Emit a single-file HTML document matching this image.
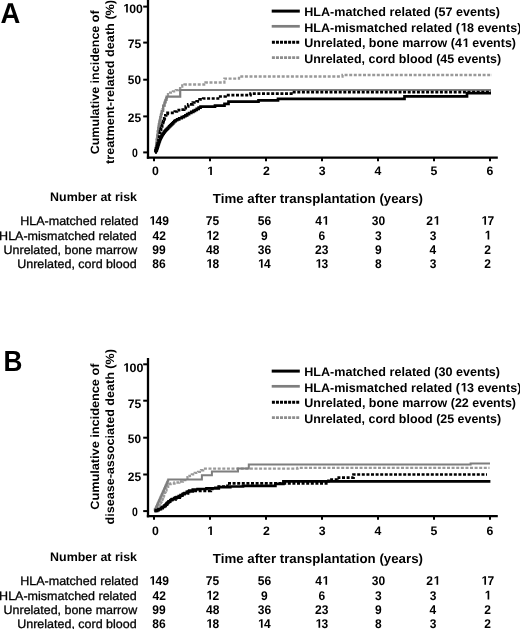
<!DOCTYPE html>
<html><head><meta charset="utf-8"><style>
html,body{margin:0;padding:0;background:#fff;}
body{width:520px;height:629px;overflow:hidden;}
svg{display:block;font-family:"Liberation Sans",sans-serif;filter:grayscale(1);text-rendering:geometricPrecision;}
</style></head><body>
<svg width="520" height="629" viewBox="0 0 520 629">
<rect width="520" height="629" fill="#fff"/>
<text x="0.61" y="23.20" font-size="28.8" font-weight="bold" textLength="19.83" lengthAdjust="spacingAndGlyphs" fill="#000">A</text>
<text x="3.50" y="371.40" font-size="29.2" font-weight="bold" textLength="18.94" lengthAdjust="spacingAndGlyphs" fill="#000">B</text>
<text transform="translate(99.20,154.30) rotate(-90)" font-size="12.0" font-weight="bold" textLength="143.87" lengthAdjust="spacingAndGlyphs" fill="#000">Cumulative incidence of</text>
<text transform="translate(114.30,163.93) rotate(-90)" font-size="12.0" font-weight="bold" textLength="164.02" lengthAdjust="spacingAndGlyphs" fill="#000">treatment-related death (%)</text>
<text transform="translate(99.20,509.71) rotate(-90)" font-size="12.0" font-weight="bold" textLength="146.08" lengthAdjust="spacingAndGlyphs" fill="#000">Cumulative incidence of</text>
<text transform="translate(114.30,524.50) rotate(-90)" font-size="12.0" font-weight="bold" textLength="175.43" lengthAdjust="spacingAndGlyphs" fill="#000">disease-associated death (%)</text>
<line x1="148" y1="0" x2="148" y2="158.75" stroke="#000" stroke-width="2.3" stroke-linecap="butt"/>
<line x1="146.85" y1="157.6" x2="497.8" y2="157.6" stroke="#000" stroke-width="2.3" stroke-linecap="butt"/>
<line x1="143.2" y1="152.4" x2="147.5" y2="152.4" stroke="#000" stroke-width="2.0" stroke-linecap="butt"/>
<line x1="143.2" y1="116.4" x2="147.5" y2="116.4" stroke="#000" stroke-width="2.0" stroke-linecap="butt"/>
<line x1="143.2" y1="79.7" x2="147.5" y2="79.7" stroke="#000" stroke-width="2.0" stroke-linecap="butt"/>
<line x1="143.2" y1="42.6" x2="147.5" y2="42.6" stroke="#000" stroke-width="2.0" stroke-linecap="butt"/>
<line x1="143.2" y1="6.6" x2="147.5" y2="6.6" stroke="#000" stroke-width="2.0" stroke-linecap="butt"/>
<line x1="154" y1="157.6" x2="154" y2="161.2" stroke="#000" stroke-width="2.0" stroke-linecap="butt"/>
<line x1="210" y1="157.6" x2="210" y2="161.2" stroke="#000" stroke-width="2.0" stroke-linecap="butt"/>
<line x1="266" y1="157.6" x2="266" y2="161.2" stroke="#000" stroke-width="2.0" stroke-linecap="butt"/>
<line x1="322" y1="157.6" x2="322" y2="161.2" stroke="#000" stroke-width="2.0" stroke-linecap="butt"/>
<line x1="378" y1="157.6" x2="378" y2="161.2" stroke="#000" stroke-width="2.0" stroke-linecap="butt"/>
<line x1="434" y1="157.6" x2="434" y2="161.2" stroke="#000" stroke-width="2.0" stroke-linecap="butt"/>
<line x1="490" y1="157.6" x2="490" y2="161.2" stroke="#000" stroke-width="2.0" stroke-linecap="butt"/>
<path d="M155.00,152.20 H155.22 V150.10 H155.68 V148.00 H155.90 H156.00 V146.34 H156.20 V144.68 H156.40 V143.02 H156.60 V141.36 H156.80 V139.70 H156.90 H157.01 V138.04 H157.23 V136.38 H157.45 V134.72 H157.67 V133.06 H157.89 V131.40 H158.00 H158.14 V129.60 H158.41 V127.80 H158.69 V126.00 H158.96 V124.20 H159.10 H159.29 V122.40 H159.66 V120.60 H160.04 V118.80 H160.41 V117.00 H160.60 H160.80 V115.45 H161.20 V113.90 H161.60 V112.35 H162.00 V110.80 H162.20 H162.52 V109.07 H163.15 V107.33 H163.78 V105.60 H164.10 H164.38 V103.67 H164.95 V101.73 H165.52 V99.80 H165.80 H166.18 V98.20 H166.93 V96.60 H167.30 H168.00 V94.20 H168.70 H170.10 V92.70 H171.50 H172.95 V91.30 H174.40 H175.85 V90.10 H177.30 H178.15 V88.70 H179.00 H180.20 V86.70 H181.40 H182.25 V85.50 H183.10 H184.55 V84.50 H186.00 L205.50,84.50 L205.50,82.50 L224.40,82.50 L224.40,78.60 L239.00,78.60 L239.00,76.50 L342.50,76.50 L342.50,75.00 L492.00,75.00" fill="none" stroke="#9a9a9a" stroke-width="2.3" stroke-linejoin="miter" stroke-dasharray="3 1.6"/>
<path d="M155.00,152.20 H155.45 V148.00 H155.90 H156.15 V143.85 H156.65 V139.70 H156.90 H157.18 V135.55 H157.72 V131.40 H158.00 H158.28 V127.80 H158.82 V124.20 H159.10 H159.47 V120.60 H160.22 V117.00 H160.60 H161.00 V113.90 H161.80 V110.80 H162.20 H163.15 V105.60 H164.10 H164.53 V102.70 H165.38 V99.80 H165.80 H166.55 V96.60 H167.30 L180.20,96.60 L180.20,90.00 L491.00,90.00" fill="none" stroke="#7e7e7e" stroke-width="2.2" stroke-linejoin="miter"/>
<path d="M155.00,152.20 H155.60 V150.00 H156.20 H156.41 V148.36 H156.83 V146.72 H157.25 V145.08 H157.67 V143.44 H158.09 V141.80 H158.30 H158.47 V140.07 H158.80 V138.33 H159.13 V136.60 H159.30 H159.47 V134.87 H159.80 V133.13 H160.13 V131.40 H160.30 H160.57 V129.70 H161.10 V128.00 H161.63 V126.30 H161.90 H162.15 V124.57 H162.65 V122.83 H163.15 V121.10 H163.40 H163.67 V119.73 H164.20 V118.37 H164.73 V117.00 H165.00 H165.38 V115.45 H166.12 V113.90 H166.50 H167.55 V112.80 H168.60 L173.80,112.80 H174.83 V111.50 H176.88 V110.20 H177.90 H180.65 V109.60 H183.40 H184.18 V108.05 H185.72 V106.50 H186.50 H188.25 V104.40 H190.00 H192.85 V102.50 H195.70 H196.70 V101.30 H197.70 H199.60 V99.40 H201.50 H203.25 V98.50 H205.00 L218.00,98.50 L218.00,96.50 L225.50,96.50 L225.50,95.20 L250.50,95.20 L250.50,93.60 L291.30,93.60 L291.30,92.10 L491.00,92.10" fill="none" stroke="#000" stroke-width="2.7" stroke-linejoin="miter" stroke-dasharray="3 1.6"/>
<path d="M155.00,152.20 H155.70 V151.00 H156.40 H156.58 V149.88 H156.93 V148.77 H157.28 V147.65 H157.62 V146.53 H157.97 V145.42 H158.32 V144.30 H158.50 H158.70 V143.16 H159.10 V142.02 H159.50 V140.88 H159.90 V139.74 H160.30 V138.60 H160.50 H160.76 V137.60 H161.29 V136.60 H161.81 V135.60 H162.34 V134.60 H162.60 H162.96 V133.60 H163.69 V132.60 H164.41 V131.60 H165.14 V130.60 H165.50 H166.02 V129.57 H167.05 V128.53 H168.08 V127.50 H168.60 H169.12 V126.47 H170.15 V125.43 H171.18 V124.40 H171.70 H172.22 V123.33 H173.25 V122.27 H174.28 V121.20 H174.80 H175.58 V120.25 H177.12 V119.30 H177.90 H179.18 V118.25 H181.72 V117.20 H183.00 H183.80 V116.25 H185.40 V115.30 H186.20 H187.15 V114.15 H189.05 V113.00 H190.00 H191.25 V111.90 H192.50 H193.32 V110.95 H194.98 V110.00 H195.80 H196.75 V108.85 H198.65 V107.70 H199.60 H200.55 V106.70 H201.50 L215.00,106.70 L215.00,105.60 L224.50,105.60 L224.50,103.80 L228.50,103.80 L228.50,101.70 L258.50,101.70 L258.50,100.40 L278.00,100.40 L278.00,98.80 L404.50,98.80 L404.50,96.40 L467.00,96.40 L467.00,93.20 L491.00,93.20" fill="none" stroke="#000" stroke-width="2.7" stroke-linejoin="miter"/>
<path d="M126.14,12.50 L126.14,5.47 L124.12,6.74 L124.12,5.41 L126.23,4.04 L127.82,4.04 L127.82,12.50Z" fill="#000"/>
<text x="122.50" y="12.50" font-size="12.3" font-weight="bold" textLength="20.43" lengthAdjust="spacingAndGlyphs" fill="#000"> 00</text>
<text x="127.65" y="47.80" font-size="12.3" font-weight="bold" textLength="13.48" lengthAdjust="spacingAndGlyphs" fill="#000">75</text>
<text x="127.85" y="83.90" font-size="12.3" font-weight="bold" textLength="13.16" lengthAdjust="spacingAndGlyphs" fill="#000">50</text>
<text x="127.78" y="121.50" font-size="12.3" font-weight="bold" textLength="13.35" lengthAdjust="spacingAndGlyphs" fill="#000">25</text>
<text x="132.08" y="156.80" font-size="12.3" font-weight="bold" textLength="5.85" lengthAdjust="spacingAndGlyphs" fill="#000">0</text>
<text x="151.99" y="175.10" font-size="12.3" font-weight="bold" textLength="6.84" lengthAdjust="spacingAndGlyphs" fill="#000">0</text>
<path d="M210.19,175.10 L210.19,168.07 L208.16,169.34 L208.16,168.01 L210.28,166.64 L211.88,166.64 L211.88,175.10Z" fill="#000"/>
<text x="206.54" y="175.10" font-size="12.3" font-weight="bold" textLength="6.84" lengthAdjust="spacingAndGlyphs" fill="#000"> </text>
<text x="262.92" y="175.10" font-size="12.3" font-weight="bold" textLength="6.84" lengthAdjust="spacingAndGlyphs" fill="#000">2</text>
<text x="318.65" y="175.10" font-size="12.3" font-weight="bold" textLength="6.84" lengthAdjust="spacingAndGlyphs" fill="#000">3</text>
<text x="374.53" y="175.10" font-size="12.3" font-weight="bold" textLength="6.84" lengthAdjust="spacingAndGlyphs" fill="#000">4</text>
<text x="430.56" y="175.10" font-size="12.3" font-weight="bold" textLength="6.84" lengthAdjust="spacingAndGlyphs" fill="#000">5</text>
<text x="486.59" y="175.10" font-size="12.3" font-weight="bold" textLength="6.84" lengthAdjust="spacingAndGlyphs" fill="#000">6</text>
<line x1="271.7" y1="11.1" x2="299.8" y2="11.1" stroke="#000" stroke-width="3.0" stroke-linecap="butt"/>
<text x="304.18" y="15.90" font-size="12.4" font-weight="bold" textLength="195.89" lengthAdjust="spacingAndGlyphs" fill="#000">HLA-matched related (57 events)</text>
<line x1="271.7" y1="26.3" x2="299.8" y2="26.3" stroke="#7e7e7e" stroke-width="2.7" stroke-linecap="butt"/>
<path d="M463.66,31.50 L463.66,24.42 L461.58,25.69 L461.58,24.36 L463.75,22.97 L465.38,22.97 L465.38,31.50Z" fill="#000"/>
<text x="304.18" y="31.50" font-size="12.4" font-weight="bold" textLength="217.23" lengthAdjust="spacingAndGlyphs" fill="#000">HLA-mismatched related ( 8 events)</text>
<line x1="271.9" y1="42.3" x2="299.3" y2="42.3" stroke="#000" stroke-width="2.9" stroke-linecap="butt" stroke-dasharray="3 1.05"/>
<path d="M465.56,47.10 L465.56,40.02 L463.49,41.29 L463.49,39.96 L465.65,38.57 L467.27,38.57 L467.27,47.10Z" fill="#000"/>
<text x="304.25" y="47.10" font-size="12.4" font-weight="bold" textLength="211.77" lengthAdjust="spacingAndGlyphs" fill="#000">Unrelated, bone marrow (4  events)</text>
<line x1="271.9" y1="57.6" x2="299.3" y2="57.6" stroke="#8e8e8e" stroke-width="2.7" stroke-linecap="butt" stroke-dasharray="3 1.05"/>
<text x="304.25" y="62.50" font-size="12.4" font-weight="bold" textLength="196.83" lengthAdjust="spacingAndGlyphs" fill="#000">Unrelated, cord blood (45 events)</text>
<text x="50.09" y="201.10" font-size="12.2" font-weight="bold" textLength="86.94" lengthAdjust="spacingAndGlyphs" fill="#000">Number at risk</text>
<text x="212.87" y="202.90" font-size="13.2" font-weight="bold" textLength="210.09" lengthAdjust="spacingAndGlyphs" fill="#000">Time after transplantation (years)</text>
<text x="20.20" y="224.80" font-size="12.2" font-weight="normal" textLength="118.31" lengthAdjust="spacingAndGlyphs" fill="#000" stroke="#000" stroke-width="0.3">HLA-matched related</text>
<path d="M152.37,224.80 L152.37,217.60 L150.39,218.90 L150.39,217.54 L152.46,216.13 L154.03,216.13 L154.03,224.80Z" fill="#000"/>
<text x="148.80" y="224.80" font-size="12.6" font-weight="bold" textLength="20.08" lengthAdjust="spacingAndGlyphs" fill="#000"> 49</text>
<text x="205.80" y="224.80" font-size="12.6" font-weight="bold" textLength="13.38" lengthAdjust="spacingAndGlyphs" fill="#000">75</text>
<text x="257.75" y="224.80" font-size="12.6" font-weight="bold" textLength="13.38" lengthAdjust="spacingAndGlyphs" fill="#000">56</text>
<path d="M325.45,224.80 L325.45,217.60 L323.46,218.90 L323.46,217.54 L325.53,216.13 L327.10,216.13 L327.10,224.80Z" fill="#000"/>
<text x="315.18" y="224.80" font-size="12.6" font-weight="bold" textLength="13.38" lengthAdjust="spacingAndGlyphs" fill="#000">4 </text>
<text x="371.81" y="224.80" font-size="12.6" font-weight="bold" textLength="13.38" lengthAdjust="spacingAndGlyphs" fill="#000">30</text>
<path d="M436.53,224.80 L436.53,217.60 L434.54,218.90 L434.54,217.54 L436.61,216.13 L438.18,216.13 L438.18,224.80Z" fill="#000"/>
<text x="426.26" y="224.80" font-size="12.6" font-weight="bold" textLength="13.38" lengthAdjust="spacingAndGlyphs" fill="#000">2 </text>
<path d="M484.37,224.80 L484.37,217.60 L482.39,218.90 L482.39,217.54 L484.46,216.13 L486.02,216.13 L486.02,224.80Z" fill="#000"/>
<text x="480.80" y="224.80" font-size="12.6" font-weight="bold" textLength="13.38" lengthAdjust="spacingAndGlyphs" fill="#000"> 7</text>
<text x="-0.90" y="239.50" font-size="12.2" font-weight="normal" textLength="137.61" lengthAdjust="spacingAndGlyphs" fill="#000" stroke="#000" stroke-width="0.3">HLA-mismatched related</text>
<text x="152.47" y="239.50" font-size="12.6" font-weight="bold" textLength="13.38" lengthAdjust="spacingAndGlyphs" fill="#000">42</text>
<path d="M209.34,239.50 L209.34,232.30 L207.36,233.60 L207.36,232.24 L209.43,230.83 L210.99,230.83 L210.99,239.50Z" fill="#000"/>
<text x="205.77" y="239.50" font-size="12.6" font-weight="bold" textLength="13.38" lengthAdjust="spacingAndGlyphs" fill="#000"> 2</text>
<text x="261.06" y="239.50" font-size="12.6" font-weight="bold" textLength="6.69" lengthAdjust="spacingAndGlyphs" fill="#000">9</text>
<text x="318.46" y="239.50" font-size="12.6" font-weight="bold" textLength="6.69" lengthAdjust="spacingAndGlyphs" fill="#000">6</text>
<text x="375.12" y="239.50" font-size="12.6" font-weight="bold" textLength="6.69" lengthAdjust="spacingAndGlyphs" fill="#000">3</text>
<text x="429.72" y="239.50" font-size="12.6" font-weight="bold" textLength="6.69" lengthAdjust="spacingAndGlyphs" fill="#000">3</text>
<path d="M487.59,239.50 L487.59,232.30 L485.61,233.60 L485.61,232.24 L487.68,230.83 L489.24,230.83 L489.24,239.50Z" fill="#000"/>
<text x="484.02" y="239.50" font-size="12.6" font-weight="bold" textLength="6.69" lengthAdjust="spacingAndGlyphs" fill="#000"> </text>
<text x="3.57" y="253.80" font-size="12.2" font-weight="normal" textLength="133.61" lengthAdjust="spacingAndGlyphs" fill="#000" stroke="#000" stroke-width="0.3">Unrelated, bone marrow</text>
<text x="152.32" y="253.80" font-size="12.6" font-weight="bold" textLength="13.38" lengthAdjust="spacingAndGlyphs" fill="#000">99</text>
<text x="206.01" y="253.80" font-size="12.6" font-weight="bold" textLength="13.38" lengthAdjust="spacingAndGlyphs" fill="#000">48</text>
<text x="257.78" y="253.80" font-size="12.6" font-weight="bold" textLength="13.38" lengthAdjust="spacingAndGlyphs" fill="#000">36</text>
<text x="315.12" y="253.80" font-size="12.6" font-weight="bold" textLength="13.38" lengthAdjust="spacingAndGlyphs" fill="#000">23</text>
<text x="375.06" y="253.80" font-size="12.6" font-weight="bold" textLength="6.69" lengthAdjust="spacingAndGlyphs" fill="#000">9</text>
<text x="429.60" y="253.80" font-size="12.6" font-weight="bold" textLength="6.69" lengthAdjust="spacingAndGlyphs" fill="#000">4</text>
<text x="484.29" y="253.80" font-size="12.6" font-weight="bold" textLength="6.69" lengthAdjust="spacingAndGlyphs" fill="#000">2</text>
<text x="17.26" y="267.80" font-size="12.2" font-weight="normal" textLength="119.37" lengthAdjust="spacingAndGlyphs" fill="#000" stroke="#000" stroke-width="0.3">Unrelated, cord blood</text>
<text x="152.35" y="267.80" font-size="12.6" font-weight="bold" textLength="13.38" lengthAdjust="spacingAndGlyphs" fill="#000">86</text>
<path d="M209.28,267.80 L209.28,260.60 L207.30,261.90 L207.30,260.54 L209.37,259.13 L210.93,259.13 L210.93,267.80Z" fill="#000"/>
<text x="205.71" y="267.80" font-size="12.6" font-weight="bold" textLength="13.38" lengthAdjust="spacingAndGlyphs" fill="#000"> 8</text>
<path d="M260.93,267.80 L260.93,260.60 L258.95,261.90 L258.95,260.54 L261.02,259.13 L262.58,259.13 L262.58,267.80Z" fill="#000"/>
<text x="257.36" y="267.80" font-size="12.6" font-weight="bold" textLength="13.38" lengthAdjust="spacingAndGlyphs" fill="#000"> 4</text>
<path d="M318.51,267.80 L318.51,260.60 L316.53,261.90 L316.53,260.54 L318.60,259.13 L320.16,259.13 L320.16,267.80Z" fill="#000"/>
<text x="314.94" y="267.80" font-size="12.6" font-weight="bold" textLength="13.38" lengthAdjust="spacingAndGlyphs" fill="#000"> 3</text>
<text x="375.06" y="267.80" font-size="12.6" font-weight="bold" textLength="6.69" lengthAdjust="spacingAndGlyphs" fill="#000">8</text>
<text x="429.72" y="267.80" font-size="12.6" font-weight="bold" textLength="6.69" lengthAdjust="spacingAndGlyphs" fill="#000">3</text>
<text x="484.29" y="267.80" font-size="12.6" font-weight="bold" textLength="6.69" lengthAdjust="spacingAndGlyphs" fill="#000">2</text>
<line x1="148" y1="358" x2="148" y2="517.35" stroke="#000" stroke-width="2.3" stroke-linecap="butt"/>
<line x1="146.85" y1="516.2" x2="497.8" y2="516.2" stroke="#000" stroke-width="2.3" stroke-linecap="butt"/>
<line x1="143.2" y1="511.1" x2="147.5" y2="511.1" stroke="#000" stroke-width="2.0" stroke-linecap="butt"/>
<line x1="143.2" y1="474.5" x2="147.5" y2="474.5" stroke="#000" stroke-width="2.0" stroke-linecap="butt"/>
<line x1="143.2" y1="437.7" x2="147.5" y2="437.7" stroke="#000" stroke-width="2.0" stroke-linecap="butt"/>
<line x1="143.2" y1="400.7" x2="147.5" y2="400.7" stroke="#000" stroke-width="2.0" stroke-linecap="butt"/>
<line x1="143.2" y1="364.3" x2="147.5" y2="364.3" stroke="#000" stroke-width="2.0" stroke-linecap="butt"/>
<line x1="154" y1="516.2" x2="154" y2="519.8000000000001" stroke="#000" stroke-width="2.0" stroke-linecap="butt"/>
<line x1="210" y1="516.2" x2="210" y2="519.8000000000001" stroke="#000" stroke-width="2.0" stroke-linecap="butt"/>
<line x1="266" y1="516.2" x2="266" y2="519.8000000000001" stroke="#000" stroke-width="2.0" stroke-linecap="butt"/>
<line x1="322" y1="516.2" x2="322" y2="519.8000000000001" stroke="#000" stroke-width="2.0" stroke-linecap="butt"/>
<line x1="378" y1="516.2" x2="378" y2="519.8000000000001" stroke="#000" stroke-width="2.0" stroke-linecap="butt"/>
<line x1="434" y1="516.2" x2="434" y2="519.8000000000001" stroke="#000" stroke-width="2.0" stroke-linecap="butt"/>
<line x1="490" y1="516.2" x2="490" y2="519.8000000000001" stroke="#000" stroke-width="2.0" stroke-linecap="butt"/>
<path d="M154.30,511.00 H154.92 V509.33 H156.15 V507.67 H157.38 V506.00 H158.00 H158.58 V504.57 H159.75 V503.13 H160.92 V501.70 H161.50 H161.79 V500.16 H162.37 V498.62 H162.95 V497.08 H163.53 V495.54 H164.11 V494.00 H164.40 H164.83 V492.20 H165.68 V490.40 H166.53 V488.60 H167.38 V486.80 H167.80 H168.15 V485.40 H168.85 V484.00 H169.20 H170.65 V483.50 H172.10 H174.50 V482.50 H176.90 H179.30 V481.50 H181.70 H182.90 V480.10 H185.30 V478.70 H186.50 H187.47 V477.25 H189.43 V475.80 H190.40 H191.85 V474.35 H194.75 V472.90 H196.20 H198.10 V471.90 H200.00 H201.05 V470.25 H203.15 V468.60 H204.20 L297.50,468.60 L297.50,467.90 L489.50,467.90" fill="none" stroke="#9a9a9a" stroke-width="2.3" stroke-linejoin="miter" stroke-dasharray="3 1.6"/>
<path d="M154.60,510.80 H154.87 V509.60 H155.40 V508.40 H155.94 V507.20 H156.47 V506.00 H157.01 V504.80 H157.54 V503.60 H158.07 V502.40 H158.61 V501.20 H159.14 V500.00 H159.68 V498.80 H160.21 V497.60 H160.75 V496.40 H161.28 V495.20 H161.82 V494.00 H162.35 V492.80 H162.89 V491.60 H163.42 V490.40 H163.96 V489.20 H164.49 V488.00 H165.03 V486.80 H165.56 V485.60 H166.09 V484.40 H166.63 V483.20 H167.16 V482.00 H167.70 V480.80 H168.23 V479.60 H168.50 L201.90,479.60 L201.90,475.30 L211.90,475.30 L211.90,471.60 L238.00,471.60 L238.00,468.60 L248.80,468.60 L248.80,464.40 L470.60,464.40 L470.60,463.60 L490.00,463.60" fill="none" stroke="#7e7e7e" stroke-width="2.0" stroke-linejoin="miter"/>
<path d="M154.50,511.00 H157.25 V509.40 H160.00 H161.80 V507.20 H163.60 H164.25 V505.90 H165.55 V504.60 H166.20 H167.00 V503.10 H168.60 V501.60 H169.40 H171.20 V499.60 H173.00 H175.40 V497.60 H177.80 H179.75 V495.60 H181.70 H183.65 V493.50 H185.60 H188.00 V491.50 H190.40 H192.70 V490.80 H195.00 L209.60,490.80 H210.80 V489.00 H212.00 H213.70 V487.75 H217.10 V486.50 H218.80 L227.50,486.50 L227.50,483.30 L328.50,483.30 L328.50,479.60 L337.30,479.60 L337.30,477.70 L353.50,477.70 L353.50,474.50 L487.00,474.50" fill="none" stroke="#000" stroke-width="2.7" stroke-linejoin="miter" stroke-dasharray="3 1.6"/>
<path d="M154.50,511.00 H155.88 V510.10 H158.62 V509.20 H160.00 H160.90 V508.10 H162.70 V507.00 H163.60 H164.03 V506.13 H164.90 V505.27 H165.77 V504.40 H166.20 H166.73 V503.37 H167.80 V502.33 H168.87 V501.30 H169.40 H170.30 V500.25 H172.10 V499.20 H173.00 H174.20 V498.15 H176.60 V497.10 H177.80 H178.73 V496.10 H180.57 V495.10 H181.50 H182.53 V494.10 H184.57 V493.10 H185.60 H186.80 V491.90 H189.20 V490.70 H190.40 H192.80 V489.50 H195.20 H197.60 V489.00 H200.00 H206.50 V488.30 H213.00 H218.80 V487.10 H224.60 H230.30 V486.50 H236.00 H243.00 V485.80 H250.00 L275.40,485.80 L275.40,483.80 L283.40,483.80 L283.40,481.30 L490.40,481.30" fill="none" stroke="#000" stroke-width="2.7" stroke-linejoin="miter"/>
<path d="M126.20,371.80 L126.20,364.77 L124.14,366.04 L124.14,364.71 L126.29,363.34 L127.91,363.34 L127.91,371.80Z" fill="#000"/>
<text x="122.49" y="371.80" font-size="12.3" font-weight="bold" textLength="20.86" lengthAdjust="spacingAndGlyphs" fill="#000"> 00</text>
<text x="127.65" y="407.80" font-size="12.3" font-weight="bold" textLength="13.48" lengthAdjust="spacingAndGlyphs" fill="#000">75</text>
<text x="127.85" y="442.80" font-size="12.3" font-weight="bold" textLength="13.16" lengthAdjust="spacingAndGlyphs" fill="#000">50</text>
<text x="127.78" y="480.80" font-size="12.3" font-weight="bold" textLength="13.35" lengthAdjust="spacingAndGlyphs" fill="#000">25</text>
<text x="132.08" y="516.20" font-size="12.3" font-weight="bold" textLength="5.85" lengthAdjust="spacingAndGlyphs" fill="#000">0</text>
<text x="151.99" y="534.90" font-size="12.3" font-weight="bold" textLength="6.84" lengthAdjust="spacingAndGlyphs" fill="#000">0</text>
<path d="M210.19,534.90 L210.19,527.87 L208.16,529.14 L208.16,527.81 L210.28,526.44 L211.88,526.44 L211.88,534.90Z" fill="#000"/>
<text x="206.54" y="534.90" font-size="12.3" font-weight="bold" textLength="6.84" lengthAdjust="spacingAndGlyphs" fill="#000"> </text>
<text x="262.92" y="534.90" font-size="12.3" font-weight="bold" textLength="6.84" lengthAdjust="spacingAndGlyphs" fill="#000">2</text>
<text x="318.65" y="534.90" font-size="12.3" font-weight="bold" textLength="6.84" lengthAdjust="spacingAndGlyphs" fill="#000">3</text>
<text x="374.53" y="534.90" font-size="12.3" font-weight="bold" textLength="6.84" lengthAdjust="spacingAndGlyphs" fill="#000">4</text>
<text x="430.56" y="534.90" font-size="12.3" font-weight="bold" textLength="6.84" lengthAdjust="spacingAndGlyphs" fill="#000">5</text>
<text x="486.59" y="534.90" font-size="12.3" font-weight="bold" textLength="6.84" lengthAdjust="spacingAndGlyphs" fill="#000">6</text>
<line x1="271.7" y1="371.1" x2="299.8" y2="371.1" stroke="#000" stroke-width="3.0" stroke-linecap="butt"/>
<text x="304.18" y="375.90" font-size="12.4" font-weight="bold" textLength="195.89" lengthAdjust="spacingAndGlyphs" fill="#000">HLA-matched related (30 events)</text>
<line x1="271.7" y1="386.3" x2="299.8" y2="386.3" stroke="#7e7e7e" stroke-width="2.7" stroke-linecap="butt"/>
<path d="M463.66,391.50 L463.66,384.42 L461.58,385.69 L461.58,384.36 L463.75,382.97 L465.38,382.97 L465.38,391.50Z" fill="#000"/>
<text x="304.18" y="391.50" font-size="12.4" font-weight="bold" textLength="217.23" lengthAdjust="spacingAndGlyphs" fill="#000">HLA-mismatched related ( 3 events)</text>
<line x1="271.9" y1="402.3" x2="299.3" y2="402.3" stroke="#000" stroke-width="2.9" stroke-linecap="butt" stroke-dasharray="3 1.05"/>
<text x="304.25" y="407.10" font-size="12.4" font-weight="bold" textLength="211.77" lengthAdjust="spacingAndGlyphs" fill="#000">Unrelated, bone marrow (22 events)</text>
<line x1="271.9" y1="417.6" x2="299.3" y2="417.6" stroke="#8e8e8e" stroke-width="2.7" stroke-linecap="butt" stroke-dasharray="3 1.05"/>
<text x="304.25" y="422.50" font-size="12.4" font-weight="bold" textLength="196.83" lengthAdjust="spacingAndGlyphs" fill="#000">Unrelated, cord blood (25 events)</text>
<text x="50.09" y="561.10" font-size="12.2" font-weight="bold" textLength="86.94" lengthAdjust="spacingAndGlyphs" fill="#000">Number at risk</text>
<text x="212.87" y="562.90" font-size="13.2" font-weight="bold" textLength="210.09" lengthAdjust="spacingAndGlyphs" fill="#000">Time after transplantation (years)</text>
<text x="20.20" y="584.80" font-size="12.2" font-weight="normal" textLength="118.31" lengthAdjust="spacingAndGlyphs" fill="#000" stroke="#000" stroke-width="0.3">HLA-matched related</text>
<path d="M152.37,584.80 L152.37,577.60 L150.39,578.90 L150.39,577.54 L152.46,576.13 L154.03,576.13 L154.03,584.80Z" fill="#000"/>
<text x="148.80" y="584.80" font-size="12.6" font-weight="bold" textLength="20.08" lengthAdjust="spacingAndGlyphs" fill="#000"> 49</text>
<text x="205.80" y="584.80" font-size="12.6" font-weight="bold" textLength="13.38" lengthAdjust="spacingAndGlyphs" fill="#000">75</text>
<text x="257.75" y="584.80" font-size="12.6" font-weight="bold" textLength="13.38" lengthAdjust="spacingAndGlyphs" fill="#000">56</text>
<path d="M325.45,584.80 L325.45,577.60 L323.46,578.90 L323.46,577.54 L325.53,576.13 L327.10,576.13 L327.10,584.80Z" fill="#000"/>
<text x="315.18" y="584.80" font-size="12.6" font-weight="bold" textLength="13.38" lengthAdjust="spacingAndGlyphs" fill="#000">4 </text>
<text x="371.81" y="584.80" font-size="12.6" font-weight="bold" textLength="13.38" lengthAdjust="spacingAndGlyphs" fill="#000">30</text>
<path d="M436.53,584.80 L436.53,577.60 L434.54,578.90 L434.54,577.54 L436.61,576.13 L438.18,576.13 L438.18,584.80Z" fill="#000"/>
<text x="426.26" y="584.80" font-size="12.6" font-weight="bold" textLength="13.38" lengthAdjust="spacingAndGlyphs" fill="#000">2 </text>
<path d="M484.37,584.80 L484.37,577.60 L482.39,578.90 L482.39,577.54 L484.46,576.13 L486.02,576.13 L486.02,584.80Z" fill="#000"/>
<text x="480.80" y="584.80" font-size="12.6" font-weight="bold" textLength="13.38" lengthAdjust="spacingAndGlyphs" fill="#000"> 7</text>
<text x="-0.90" y="599.50" font-size="12.2" font-weight="normal" textLength="137.61" lengthAdjust="spacingAndGlyphs" fill="#000" stroke="#000" stroke-width="0.3">HLA-mismatched related</text>
<text x="152.47" y="599.50" font-size="12.6" font-weight="bold" textLength="13.38" lengthAdjust="spacingAndGlyphs" fill="#000">42</text>
<path d="M209.34,599.50 L209.34,592.30 L207.36,593.60 L207.36,592.24 L209.43,590.83 L210.99,590.83 L210.99,599.50Z" fill="#000"/>
<text x="205.77" y="599.50" font-size="12.6" font-weight="bold" textLength="13.38" lengthAdjust="spacingAndGlyphs" fill="#000"> 2</text>
<text x="261.06" y="599.50" font-size="12.6" font-weight="bold" textLength="6.69" lengthAdjust="spacingAndGlyphs" fill="#000">9</text>
<text x="318.46" y="599.50" font-size="12.6" font-weight="bold" textLength="6.69" lengthAdjust="spacingAndGlyphs" fill="#000">6</text>
<text x="375.12" y="599.50" font-size="12.6" font-weight="bold" textLength="6.69" lengthAdjust="spacingAndGlyphs" fill="#000">3</text>
<text x="429.72" y="599.50" font-size="12.6" font-weight="bold" textLength="6.69" lengthAdjust="spacingAndGlyphs" fill="#000">3</text>
<path d="M487.59,599.50 L487.59,592.30 L485.61,593.60 L485.61,592.24 L487.68,590.83 L489.24,590.83 L489.24,599.50Z" fill="#000"/>
<text x="484.02" y="599.50" font-size="12.6" font-weight="bold" textLength="6.69" lengthAdjust="spacingAndGlyphs" fill="#000"> </text>
<text x="3.57" y="613.80" font-size="12.2" font-weight="normal" textLength="133.61" lengthAdjust="spacingAndGlyphs" fill="#000" stroke="#000" stroke-width="0.3">Unrelated, bone marrow</text>
<text x="152.32" y="613.80" font-size="12.6" font-weight="bold" textLength="13.38" lengthAdjust="spacingAndGlyphs" fill="#000">99</text>
<text x="206.01" y="613.80" font-size="12.6" font-weight="bold" textLength="13.38" lengthAdjust="spacingAndGlyphs" fill="#000">48</text>
<text x="257.78" y="613.80" font-size="12.6" font-weight="bold" textLength="13.38" lengthAdjust="spacingAndGlyphs" fill="#000">36</text>
<text x="315.12" y="613.80" font-size="12.6" font-weight="bold" textLength="13.38" lengthAdjust="spacingAndGlyphs" fill="#000">23</text>
<text x="375.06" y="613.80" font-size="12.6" font-weight="bold" textLength="6.69" lengthAdjust="spacingAndGlyphs" fill="#000">9</text>
<text x="429.60" y="613.80" font-size="12.6" font-weight="bold" textLength="6.69" lengthAdjust="spacingAndGlyphs" fill="#000">4</text>
<text x="484.29" y="613.80" font-size="12.6" font-weight="bold" textLength="6.69" lengthAdjust="spacingAndGlyphs" fill="#000">2</text>
<text x="17.26" y="627.80" font-size="12.2" font-weight="normal" textLength="119.37" lengthAdjust="spacingAndGlyphs" fill="#000" stroke="#000" stroke-width="0.3">Unrelated, cord blood</text>
<text x="152.35" y="627.80" font-size="12.6" font-weight="bold" textLength="13.38" lengthAdjust="spacingAndGlyphs" fill="#000">86</text>
<path d="M209.28,627.80 L209.28,620.60 L207.30,621.90 L207.30,620.54 L209.37,619.13 L210.93,619.13 L210.93,627.80Z" fill="#000"/>
<text x="205.71" y="627.80" font-size="12.6" font-weight="bold" textLength="13.38" lengthAdjust="spacingAndGlyphs" fill="#000"> 8</text>
<path d="M260.93,627.80 L260.93,620.60 L258.95,621.90 L258.95,620.54 L261.02,619.13 L262.58,619.13 L262.58,627.80Z" fill="#000"/>
<text x="257.36" y="627.80" font-size="12.6" font-weight="bold" textLength="13.38" lengthAdjust="spacingAndGlyphs" fill="#000"> 4</text>
<path d="M318.51,627.80 L318.51,620.60 L316.53,621.90 L316.53,620.54 L318.60,619.13 L320.16,619.13 L320.16,627.80Z" fill="#000"/>
<text x="314.94" y="627.80" font-size="12.6" font-weight="bold" textLength="13.38" lengthAdjust="spacingAndGlyphs" fill="#000"> 3</text>
<text x="375.06" y="627.80" font-size="12.6" font-weight="bold" textLength="6.69" lengthAdjust="spacingAndGlyphs" fill="#000">8</text>
<text x="429.72" y="627.80" font-size="12.6" font-weight="bold" textLength="6.69" lengthAdjust="spacingAndGlyphs" fill="#000">3</text>
<text x="484.29" y="627.80" font-size="12.6" font-weight="bold" textLength="6.69" lengthAdjust="spacingAndGlyphs" fill="#000">2</text>
</svg>
</body></html>
